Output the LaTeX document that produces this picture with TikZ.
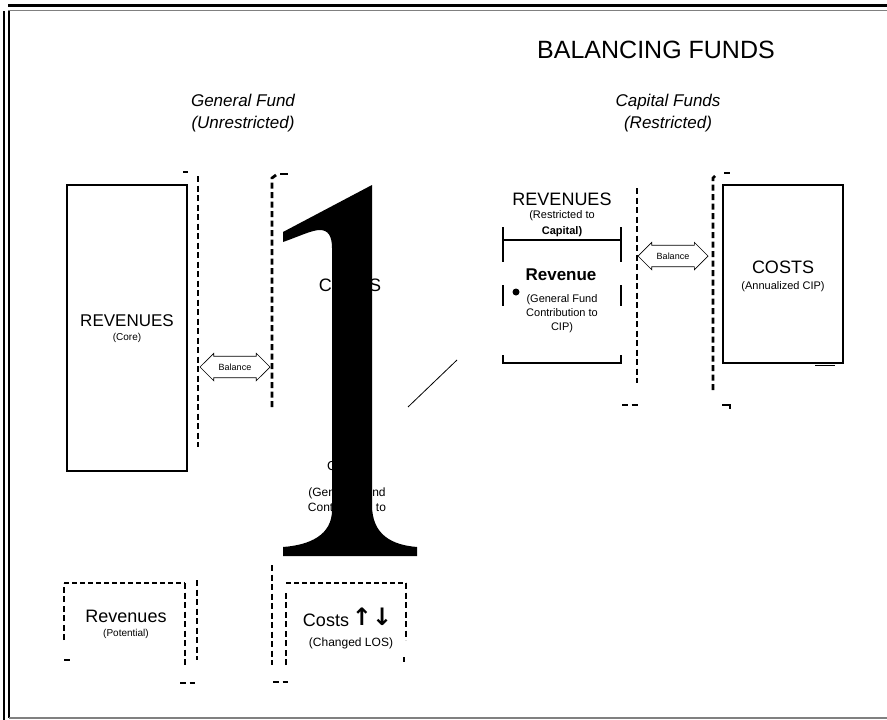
\documentclass[tikz,border=0pt]{standalone}
\usepackage{fontspec}
\setmainfont{Liberation Sans}
\newfontfamily\symfont{DejaVu Sans}
\usepackage{tikz}
\usetikzlibrary{arrows.meta, shapes.arrows}

\begin{document}
\begin{tikzpicture}[
    x=1pt, y=-1pt,
    txt/.style={inner sep=0pt, align=center, font=\fontsize{#1}{#1}\selectfont},
    box/.style={rectangle, draw, line width=1.4pt, inner sep=0pt},
    dashln/.style={line width=2.8pt, dash pattern=on 6pt off 3.5pt},
    thinln/.style={line width=1.2pt},
    bal/.style={double arrow, draw, line width=0.7pt, inner xsep=1pt, inner ysep=7pt,
      double arrow head extend=3pt, minimum height=70pt, font=\fontsize{9}{9}\selectfont}
  ]
    \useasboundingbox (0,0) rectangle (887,720);

    % frame
    \draw[line width=3pt] (8,5) -- (887,5);
    \draw[gray, line width=1pt] (8,10.5) -- (887,10.5);
    \draw[line width=2pt] (4,11) -- (4,720);
    \draw[line width=1.2pt] (9,11) -- (9,718);
    \draw[gray, line width=1.2pt] (9,718) -- (887,718);

    % headings
    \node[txt=25] (title) at (656,50) {BALANCING FUNDS};
    \node[txt=17] (gfhead) at (243,113) {\itshape General Fund\\[5pt]\itshape (Unrestricted)};
    \node[txt=17] (cfhead) at (668,113) {\itshape Capital Funds\\[5pt]\itshape (Restricted)};

    % general fund
    \node[box, minimum width=120pt, minimum height=286pt] (gfrev) at (127,328) {};
    \node[txt=17] (gfrevtxt) at (127,321) {REVENUES};
    \node[txt=10] (gfrevsub) at (127,338) {(Core)};
    \draw[dashln] (198,176) -- (198,447);
    \draw[dashln] (272,407) -- (272,178) -- (276,175);
    \draw[thinln] (183,172) -- (188,172);
    \draw[thinln] (280,174) -- (288,174);
    \node[bal] (gfbal) at (235,367) {Balance};

    % costs under the big figure
    \node[txt=18] (gfcost) at (350,285) {COSTS};
    \node[txt=13, anchor=west] (gfcontrib) at (327,466) {COST};
    \node[txt=12] (gfcontribsub) at (347,500) {(General Fund\\[3pt]Contribution to};
    \fill (372,185) -- (283,232) -- (283,242)
      .. controls (300,236) and (312,230) .. (320,230)
      .. controls (328,230) and (332,236) .. (332,248) -- (332,510)
      .. controls (332,535) and (310,545) .. (283,547) -- (283,556) -- (417,556) -- (417,547)
      .. controls (392,545) and (372,535) .. (372,505) -- cycle;

    \coordinate (d1) at (408,407);
    \coordinate (d2) at (457,360);
    \draw[line width=0.8pt] (d1) -- (d2);

    % capital funds
    \node[txt=18] (caprev) at (562,199) {REVENUES};
    \node[txt=11] (caprevsub) at (562,216) {(Restricted to};
    \node[txt=11] (caprevcap) at (562,232) {\bfseries Capital)};
    \draw[thinln] (503,227) -- (503,262);
    \draw[thinln] (621,227) -- (621,262);
    \draw[thinln] (503,240) -- (621,240);
    \node[txt=17] (caprevgf) at (561,275) {\bfseries Revenue};
    \draw[thinln] (503,285) -- (503,306);
    \draw[thinln] (621,285) -- (621,306);
    \fill (516,292) circle (3.5);
    \node[txt=11] (caprevgfsub) at (562,314) {(General Fund\\[3pt]Contribution to\\[3pt]CIP)};
    \draw[thinln] (503,355) -- (503,363) -- (621,363) -- (621,355);

    \draw[dashln] (637,188) -- (637,383);
    \draw[dashln] (713,390) -- (713,178) -- (716,175);
    \draw[thinln] (724,173) -- (730,173);
    \draw[dashln] (622,405) -- (638,405);
    \draw[thinln] (722,405) -- (730,405) -- (730,409);
    \node[bal] (capbal) at (673,256) {Balance};

    \node[box, minimum width=120pt, minimum height=178pt] (capcost) at (783,274) {};
    \node[txt=18] (capcosttxt) at (783,267) {COSTS};
    \node[txt=11] (capcostsub) at (783,287) {(Annualized CIP)};
    \draw[line width=1.6pt] (815,365.5) -- (835,365.5);

    % potential revenues and changed costs
    \draw[line width=1.4pt, dash pattern=on 5pt off 3pt] (64,583) -- (185,583);
    \draw[dashln] (64,640) -- (64,583);
    \draw[dashln] (185,583) -- (185,665);
    \draw[dashln] (197,580) -- (197,660);
    \draw[dashln] (64,660) -- (70,660);
    \draw[dashln] (180,683) -- (195,683);
    \node[txt=18] (potrev) at (126,616) {Revenues};
    \node[txt=10] (potrevsub) at (126,634) {(Potential)};

    \draw[dashln] (272,565) -- (272,665);
    \draw[dashln] (286,665) -- (286,590);
    \draw[line width=1.4pt, dash pattern=on 5pt off 3pt] (286,583) -- (406,583);
    \draw[dashln] (406,583) -- (406,640);
    \draw[thinln] (404,657) -- (404,662);
    \draw[dashln] (273,682) -- (288,682);
    \node[txt=18] (chgcost) at (326,620) {Costs};
    \node[inner sep=0pt, font=\symfont\bfseries\fontsize{24}{24}\selectfont] (chgarrows) at (372,617) {↑↓};
    \node[txt=12] (chgcostsub) at (351,643) {(Changed LOS)};
  \end{tikzpicture}
\end{document}
